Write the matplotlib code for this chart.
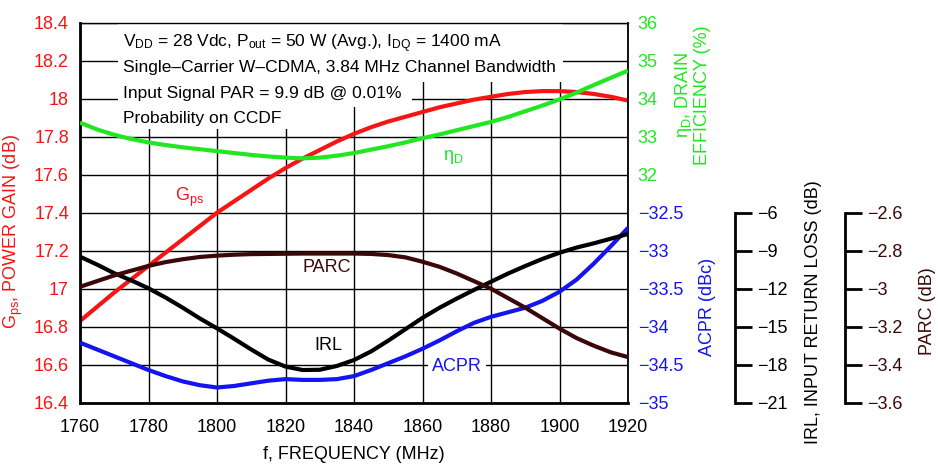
import matplotlib
matplotlib.use('Agg')
import matplotlib.pyplot as plt
from matplotlib.patches import Rectangle
from matplotlib import font_manager

# ---------------- data ----------------
freq = [1760, 1765, 1770, 1775, 1780, 1785, 1790, 1795, 1800, 1805, 1810,
        1815, 1820, 1825, 1830, 1835, 1840, 1845, 1850, 1855, 1860, 1865,
        1870, 1875, 1880, 1885, 1890, 1895, 1900, 1905, 1910, 1915, 1920]
gps = [16.83, 16.905, 16.98, 17.05, 17.12, 17.19, 17.26, 17.33, 17.40, 17.46, 17.52,
       17.58, 17.635, 17.685, 17.73, 17.775, 17.815, 17.85, 17.88, 17.905, 17.93, 17.955,
       17.975, 17.995, 18.01, 18.025, 18.035, 18.04, 18.04, 18.035, 18.025, 18.01, 17.99]
eff = [33.37, 33.19, 33.05, 32.94, 32.85, 32.78, 32.72, 32.67, 32.62, 32.57, 32.52,
       32.48, 32.45, 32.43, 32.45, 32.50, 32.57, 32.66, 32.75, 32.85, 32.96, 33.06,
       33.17, 33.28, 33.39, 33.52, 33.67, 33.82, 33.98, 34.16, 34.36, 34.55, 34.74]
irl = [-9.47, -10.1, -10.78, -11.35, -11.97, -12.7, -13.5, -14.35, -15.13, -15.95, -16.8,
       -17.6, -18.15, -18.42, -18.4, -18.1, -17.63, -16.95, -16.1, -15.2, -14.3, -13.5,
       -12.78, -12.1, -11.45, -10.8, -10.21, -9.65, -9.16, -8.75, -8.42, -8.05, -7.68]
parc = [-2.99, -2.96, -2.93, -2.905, -2.88, -2.86, -2.845, -2.833, -2.826, -2.821, -2.818,
        -2.817, -2.816, -2.815, -2.815, -2.815, -2.815, -2.817, -2.823, -2.835, -2.858, -2.885,
        -2.92, -2.96, -3.00, -3.05, -3.10, -3.155, -3.21, -3.26, -3.30, -3.335, -3.36]
acpr = [-34.21, -34.30, -34.39, -34.48, -34.57, -34.65, -34.72, -34.77, -34.80, -34.78, -34.745,
        -34.71, -34.69, -34.70, -34.70, -34.69, -34.65, -34.57, -34.48, -34.39, -34.29, -34.18,
        -34.06, -33.95, -33.87, -33.81, -33.75, -33.66, -33.54, -33.38, -33.17, -32.94, -32.70]

x_ticks = [1760, 1780, 1800, 1820, 1840, 1860, 1880, 1900, 1920]
gps_ticks = [16.4, 16.6, 16.8, 17.0, 17.2, 17.4, 17.6, 17.8, 18.0, 18.2, 18.4]
gps_labels = ['16.4', '16.6', '16.8', '17', '17.2', '17.4', '17.6', '17.8', '18', '18.2', '18.4']
eff_ticks = [32, 33, 34, 35, 36]
acpr_ticks = [-35, -34.5, -34, -33.5, -33, -32.5]
acpr_labels = ['\u221235', '\u221234.5', '\u221234', '\u221233.5', '\u221233', '\u221232.5']
irl_ticks = [-21, -18, -15, -12, -9, -6]
irl_labels = ['\u221221', '\u221218', '\u221215', '\u221212', '\u22129', '\u22126']
parc_ticks = [-3.6, -3.4, -3.2, -3.0, -2.8, -2.6]
parc_labels = ['\u22123.6', '\u22123.4', '\u22123.2', '\u22123', '\u22122.8', '\u22122.6']

# ---------------- style ----------------
names = {f.name for f in font_manager.fontManager.ttflist}
main_font = 'Liberation Sans Narrow' if 'Liberation Sans Narrow' in names else 'Liberation Sans'
plt.rcParams['font.family'] = [main_font, 'DejaVu Sans']
plt.rcParams['mathtext.fontset'] = 'custom'
plt.rcParams['mathtext.rm'] = main_font
plt.rcParams['mathtext.it'] = main_font
plt.rcParams['mathtext.default'] = 'regular'

RED = '#f51515'
GREEN = '#22e622'
BLUE = '#1414ee'
BROWN = '#3a0808'
BLACK = '#000000'
FS = 13
FS_BOX = 12.5
LW = 3.0

fig = plt.figure(figsize=(9.38, 4.66), dpi=100)
ax = fig.add_axes([80 / 938, 1 - 402.7 / 466, 548 / 938, 380 / 466])

ax.set_xlim(1760, 1920)
ax.set_ylim(16.4, 18.4)
ax.set_xticks(x_ticks)
ax.set_yticks(gps_ticks)
ax.set_yticklabels(gps_labels)
ax.grid(True, color='black', linewidth=1.0)
ax.tick_params(axis='both', length=0, labelsize=FS)
ax.tick_params(axis='y', colors=RED, pad=8)
ax.tick_params(axis='x', colors=BLACK, pad=12)
for s, w in (('left', 2.0), ('bottom', 2.0), ('top', 1.0), ('right', 1.3)):
    ax.spines[s].set_linewidth(w)

# white box behind the condition text (stepped like the original)
for (x0, y0, x1, y1) in ((118, 23.5, 563, 82), (118, 82, 412, 107), (118, 107, 300, 129)):
    ax.add_patch(Rectangle(((x0 - 80) / 548, (402.7 - y1) / 380),
                           (x1 - x0) / 548, (y1 - y0) / 380,
                           transform=ax.transAxes, facecolor='white',
                           edgecolor='none', zorder=1.8))
cond = ['V$_{DD}$ = 28 Vdc, P$_{out}$ = 50 W (Avg.), I$_{DQ}$ = 1400 mA',
        'Single\u2013Carrier W\u2013CDMA, 3.84 MHz Channel Bandwidth',
        'Input Signal PAR = 9.9 dB @ 0.01%',
        'Probability on CCDF']
for i, t in enumerate(cond):
    ax.text((123 - 80) / 548, (402.7 - (47 + 25.3 * i)) / 380, t,
            transform=ax.transAxes, fontsize=FS_BOX, ha='left', va='baseline',
            zorder=3)

ax.plot(freq, gps, color=RED, lw=LW, zorder=2.2, solid_capstyle='butt')
ax.set_ylabel('G$_{ps}$, POWER GAIN (dB)', color=RED, fontsize=FS)
ax.yaxis.set_label_coords((25 - 80) / 548, (402.7 - 232) / 380)
ax.set_xlabel('f, FREQUENCY (MHz)', fontsize=FS, labelpad=7)

# efficiency
ax_e = ax.twinx()
ax_e.set_ylim(26, 36)
ax_e.set_yticks(eff_ticks)
ax_e.tick_params(axis='y', length=0, labelsize=FS, colors=GREEN, pad=7)
for s in ax_e.spines.values():
    s.set_visible(False)
ax_e.plot(freq, eff, color=GREEN, lw=LW, solid_capstyle='butt')

# ACPR
ax_a = ax.twinx()
ax_a.set_ylim(-35, -30)
ax_a.set_yticks(acpr_ticks)
ax_a.set_yticklabels(acpr_labels)
ax_a.tick_params(axis='y', length=0, labelsize=FS, colors=BLUE, pad=7)
for s in ax_a.spines.values():
    s.set_visible(False)
ax_a.plot(freq, acpr, color=BLUE, lw=LW, solid_capstyle='butt')

# IRL
ax_i = ax.twinx()
ax_i.set_ylim(-21, 9)
ax_i.set_yticks(irl_ticks)
ax_i.set_yticklabels(irl_labels)
for s in ax_i.spines.values():
    s.set_visible(False)
ax_i.spines['right'].set_visible(True)
ax_i.spines['right'].set_position(('axes', (735 - 80) / 548))
ax_i.spines['right'].set_bounds(-21, -6)
ax_i.spines['right'].set_linewidth(2.0)
ax_i.tick_params(axis='y', direction='out', length=12, width=2.0,
                 labelsize=FS, colors=BLACK, pad=4)
ax_i.plot(freq, irl, color=BLACK, lw=LW, solid_capstyle='butt')

# PARC
ax_p = ax.twinx()
ax_p.set_ylim(-3.6, -1.6)
ax_p.set_yticks(parc_ticks)
ax_p.set_yticklabels(parc_labels)
for s in ax_p.spines.values():
    s.set_visible(False)
ax_p.spines['right'].set_visible(True)
ax_p.spines['right'].set_position(('axes', (845 - 80) / 548))
ax_p.spines['right'].set_bounds(-3.6, -2.6)
ax_p.spines['right'].set_linewidth(2.0)
ax_p.tick_params(axis='y', direction='out', length=12, width=2.0,
                 labelsize=FS, colors=BLACK, labelcolor=BROWN, pad=4)
ax_p.plot(freq, parc, color=BROWN, lw=LW, solid_capstyle='butt')

# curve labels
ax.text(1792.1, 17.48, 'G$_{ps}$', color=RED, fontsize=FS, ha='center', va='center', zorder=4)
ax_e.text(1868.9, 32.47, '\u03b7$_{D}$', color=GREEN, fontsize=FS, ha='center', va='center')
ax.text(1832.1, 17.11, 'PARC', color=BROWN, fontsize=FS, ha='center', va='center', zorder=4)
ax.text(1832.4, 16.70, 'IRL', color=BLACK, fontsize=FS, ha='center', va='center', zorder=4)
ax.text(1870.1, 16.593, 'ACPR', color=BLUE, fontsize=FS, ha='center', va='center', zorder=4,
        bbox=dict(facecolor='white', edgecolor='none', pad=3))

# right-hand axis titles
fig.text(692 / 938, 1 - 95 / 466, '\u03b7$_{D}$, DRAIN\nEFFICIENCY (%)', color=GREEN,
         fontsize=FS, rotation=90, ha='center', va='center', multialignment='center',
         linespacing=1.05)
fig.text(707 / 938, 1 - 307 / 466, 'ACPR (dBc)', color=BLUE, fontsize=FS,
         rotation=90, ha='center', va='center')
fig.text(813 / 938, 1 - 312 / 466, 'IRL, INPUT RETURN LOSS (dB)', color=BLACK,
         fontsize=FS, rotation=90, ha='center', va='center')
fig.text(927 / 938, 1 - 311 / 466, 'PARC (dB)', color=BROWN, fontsize=FS,
         rotation=90, ha='center', va='center')

fig.savefig('out.png', dpi=100)
